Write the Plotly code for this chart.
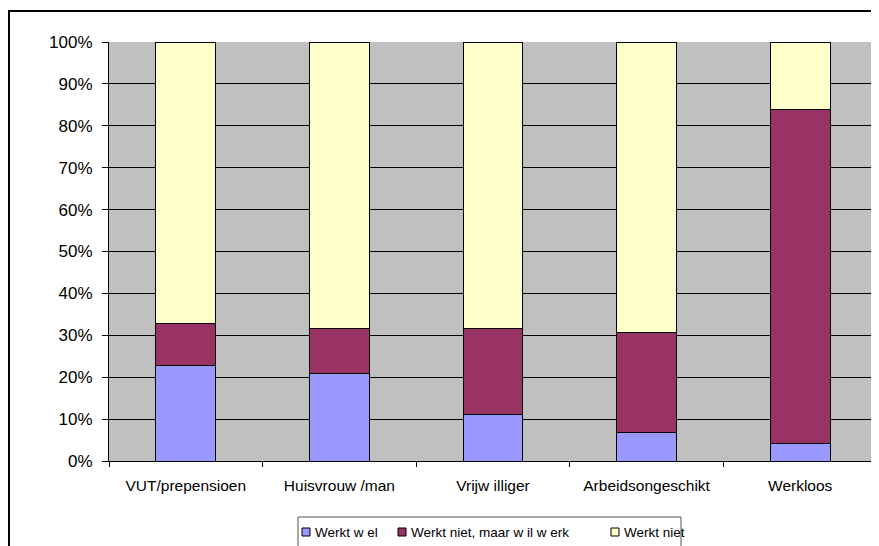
import plotly.graph_objects as go

categories = ["VUT/prepensioen", "Huisvrouw /man", "Vrijw illiger", "Arbeidsongeschikt", "Werkloos"]
werkt_wel = [22.7, 21.0, 11.0, 6.8, 4.1]
wil_werk = [10.0, 10.7, 20.7, 23.9, 79.9]
werkt_niet = [67.3, 68.3, 68.3, 69.3, 16.0]
series_names = ["Werkt w el", "Werkt niet, maar w il w erk", "Werkt niet"]
series_colors = ["#9999FF", "#993366", "#FFFFCC"]
y_ticks = [0, 10, 20, 30, 40, 50, 60, 70, 80, 90, 100]
y_tick_labels = [f"{v}%" for v in y_ticks]

FONT = "Liberation Sans, Arial, sans-serif"

# the page body has an 8px margin, so the figure sits at (8, 8) in the window
OFF = 8
W, H = 879 - OFF, 546 - OFF
# target plot area on screen: x 109..877, y 42..461
L = 109 - OFF
T = 42 - OFF
R = W - (877 - OFF)
B = H - (461 - OFF)
PW, PH = W - L - R, H - T - B


def px(x):  # screen x -> paper
    return (x - OFF - L) / PW


def py(y):  # screen y -> paper
    return (H - B - (y - OFF)) / PH


fig = go.Figure()
for name, vals, col in zip(series_names, [werkt_wel, wil_werk, werkt_niet], series_colors):
    fig.add_trace(go.Bar(
        x=categories, y=vals, name=name,
        marker=dict(color=col, line=dict(color="black", width=1)),
        showlegend=False,
    ))

shapes = [
    # outer chart border (extends past the window on right/bottom)
    dict(type="rect", xref="paper", yref="paper", x0=px(9), x1=px(900), y0=py(580), y1=py(11),
         line=dict(color="black", width=2), fillcolor="rgba(0,0,0,0)", layer="below"),
    # right edge of plot area
    dict(type="line", xref="paper", yref="paper", x0=1.0, x1=1.0, y0=0, y1=1,
         line=dict(color="#808080", width=1)),
    # legend box
    dict(type="rect", xref="paper", yref="paper", x0=px(298), x1=px(681), y0=py(580), y1=py(517),
         line=dict(color="#555555", width=1), fillcolor="white"),
]
annotations = []
legend_sq_x = [302, 398, 611]
legend_txt_x = [313, 409, 622]
ly = 532
for sx, tx, name, col in zip(legend_sq_x, legend_txt_x, series_names, series_colors):
    shapes.append(dict(type="rect", xref="paper", yref="paper",
                       x0=px(sx), x1=px(sx + 8), y0=py(ly + 4), y1=py(ly - 4),
                       line=dict(color="black", width=1), fillcolor=col))
    annotations.append(dict(xref="paper", yref="paper", x=px(tx), y=py(ly),
                            xanchor="left", yanchor="middle", showarrow=False,
                            text=name, font=dict(family=FONT, size=13.5, color="black")))

fig.update_layout(
    barmode="stack",
    bargap=0.61,
    width=W, height=H,
    margin=dict(l=L, r=R, t=T, b=B, autoexpand=False),
    paper_bgcolor="white",
    plot_bgcolor="#C0C0C0",
    font=dict(family=FONT, size=15, color="black"),
    showlegend=False,
    xaxis=dict(
        showline=True, linecolor="black", linewidth=1,
        ticks="outside", ticklen=5, tickcolor="black", tickson="boundaries",
        showgrid=False, ticklabelstandoff=10, tickfont=dict(size=15.5),
    ),
    yaxis=dict(
        range=[0, 100], tickvals=y_ticks, ticktext=y_tick_labels,
        showline=True, linecolor="black", linewidth=1,
        ticks="outside", ticklen=6, tickcolor="black",
        showgrid=True, gridcolor="black", gridwidth=1,
        zeroline=False, ticklabelstandoff=6, tickfont=dict(size=17),
    ),
    shapes=shapes,
    annotations=annotations,
)

fig.write_html("out.html")
